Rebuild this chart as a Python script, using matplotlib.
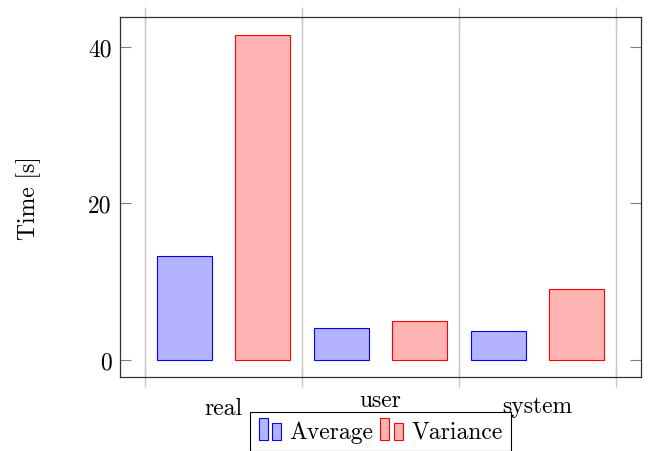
import numpy as np
import matplotlib
matplotlib.use('Agg')
import matplotlib.pyplot as plt
import matplotlib.patches as mpatches
import matplotlib.transforms as mtransforms
from matplotlib.legend_handler import HandlerBase

# ── data ─────────────────────────────────────────────────────────────────────
categories = ['real', 'user', 'system']
average    = [13.3, 4.1, 3.7]
variance   = [41.5, 5.0, 9.1]
yticks     = [0, 20, 40]

AVG_FACE, AVG_EDGE = '#b3b3ff', '#0000ff'
VAR_FACE, VAR_EDGE = '#ffb3b3', '#ff0000'
# ─────────────────────────────────────────────────────────────────────────────

plt.rcParams['font.family'] = ['cmr10', 'DejaVu Serif']
plt.rcParams['mathtext.fontset'] = 'cm'
plt.rcParams['axes.formatter.use_mathtext'] = True
FS = 17


class DoubleBarHandler(HandlerBase):
    # pgfplots-style legend icon: two small bars side by side
    def create_artists(self, legend, orig_handle, xdescent, ydescent,
                       width, height, fontsize, trans):
        fc = orig_handle.get_facecolor()
        ec = orig_handle.get_edgecolor()
        bw = width * 0.36
        h1 = height * 1.35
        h2 = height * 1.05
        r1 = mpatches.Rectangle((-xdescent, -ydescent - 0.15 * height), bw, h1,
                                facecolor=fc, edgecolor=ec, lw=0.8, transform=trans)
        r2 = mpatches.Rectangle((-xdescent + width * 0.55, -ydescent - 0.15 * height), bw, h2,
                                facecolor=fc, edgecolor=ec, lw=0.8, transform=trans)
        return [r1, r2]


fig = plt.figure(figsize=(6.49, 4.52), dpi=100)
ax = fig.add_axes([120 / 649, 1 - 378 / 452, 521 / 649, 360 / 452])

x = np.arange(len(categories))
b1 = ax.bar(x + 0.25, average, width=0.35, color=AVG_FACE, edgecolor=AVG_EDGE,
            linewidth=0.8, zorder=3)
b2 = ax.bar(x + 0.75, variance, width=0.35, color=VAR_FACE, edgecolor=VAR_EDGE,
            linewidth=0.8, zorder=3)

ax.set_xlim(-0.159, 3.159)
ax.set_ylim(-2.17, 43.8)

# vertical grid + inout ticks between categories
ax.set_xticks(np.arange(len(categories) + 1))
ax.set_xticklabels([])
ax.grid(axis='x', color='#c8c8c8', lw=1.0, zorder=0)
ax.tick_params(axis='x', direction='inout', length=15, width=1.0, color='#c8c8c8',
               top=True, bottom=True)

ax.set_yticks(yticks)
ax.set_yticklabels([str(v) for v in yticks], fontsize=FS)
ax.tick_params(axis='y', direction='in', length=8, width=0.8, color='#808080',
               left=True, right=True, pad=6)

for s in ax.spines.values():
    s.set_color('#303030')
    s.set_linewidth(0.9)

# category labels, staggered like the original
blend = mtransforms.blended_transform_factory(ax.transData, ax.transAxes)
label_y = [-0.103, -0.081, -0.097]
for i, (name, yy) in enumerate(zip(categories, label_y)):
    ax.text(i + 0.5, yy, name, transform=blend, ha='center', va='baseline', fontsize=FS)

ax.set_ylabel('Time [s]', fontsize=FS, labelpad=34)

leg = fig.legend([b1.patches[0], b2.patches[0]], ['Average', 'Variance'],
                 handler_map={mpatches.Rectangle: DoubleBarHandler()},
                 loc='upper center', bbox_to_anchor=(380.5 / 649, 1 - 413 / 452),
                 ncol=2, fontsize=FS, frameon=True, fancybox=False,
                 edgecolor='black', framealpha=1, borderpad=0.35,
                 handlelength=1.05, handletextpad=0.25, columnspacing=0.3,
                 borderaxespad=0)
leg.get_frame().set_linewidth(0.8)

fig.savefig('out.png', dpi=100)
